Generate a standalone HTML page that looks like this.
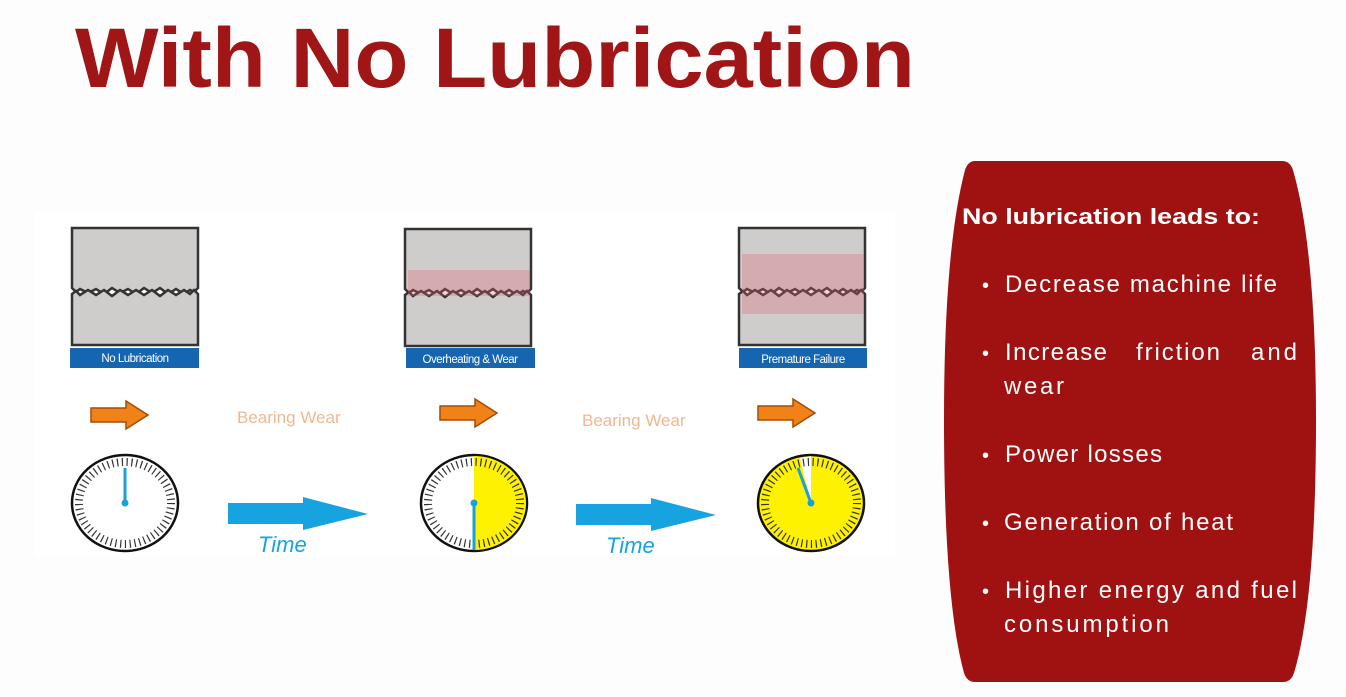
<!DOCTYPE html>
<html><head><style>
html,body{margin:0;padding:0;background:#fdfdfd;}
svg{display:block;}
</style></head><body>
<svg width="1346" height="697" viewBox="0 0 1346 697" xmlns="http://www.w3.org/2000/svg">
<defs>
<g id="blk">
<path d="M0,0 H126 V60 L122,64 L118,62 L112,66 L104,61 L96,66 L88,60 L80,65 L72,60 L64,66 L56,61 L48,65 L40,60 L32,66 L24,61 L16,65 L8,61 L4,64 L0,60 Z" fill="#cfcdcb" stroke="#333" stroke-width="2.5"/>
<path d="M0,117 H126 V66 L122,62 L118,66 L112,62 L104,67 L96,62 L88,68 L80,62 L72,67 L64,62 L56,67 L48,62 L40,68 L32,62 L24,67 L16,62 L8,67 L4,63 L0,66 Z" fill="#cfcdcb" stroke="#333" stroke-width="2.5"/>
</g>
<g id="oarr"><path d="M0,6 H35 V-1 L57,13 L35,27 V20 H0 Z" fill="#f08218" stroke="#a24c08" stroke-width="1.5"/></g>
<g id="barr"><path d="M0,3 H75 V-3 L140,14 L75,30 V24 H0 Z" fill="#16a3e0"/></g>
</defs>
<rect x="35" y="212" width="860" height="345" fill="#ffffff"/>
<text x="75" y="87" font-family="Liberation Sans, sans-serif" font-weight="bold" font-size="84" fill="#a01515" textLength="840" lengthAdjust="spacingAndGlyphs">With No Lubrication</text>

<use href="#blk" x="72" y="228"/>
<use href="#blk" x="405" y="229"/>
<use href="#blk" x="739" y="228"/>
<g fill="#e06070" opacity="0.3">
<rect x="408" y="270" width="122" height="26"/>
<rect x="742" y="254" width="122" height="60"/>
</g>
<rect x="70" y="348" width="129" height="20" fill="#1565b0"/>
<rect x="406" y="348" width="129" height="20" fill="#1565b0"/>
<rect x="739" y="348" width="128" height="20" fill="#1565b0"/>
<g font-family="Liberation Sans, sans-serif" font-size="11.5" fill="#fff" text-anchor="middle" letter-spacing="-0.5">
<text x="135" y="362">No Lubrication</text>
<text x="470" y="363">Overheating &amp; Wear</text>
<text x="803" y="363">Premature Failure</text>
</g>

<use href="#oarr" x="91" y="402"/>
<use href="#oarr" x="440" y="400"/>
<use href="#oarr" x="758" y="400"/>
<g font-family="Liberation Sans, sans-serif" font-size="17" fill="#f0b890">
<text x="237" y="423">Bearing Wear</text>
<text x="582" y="426">Bearing Wear</text>
</g>
<use href="#barr" x="228" y="500"/>
<use href="#barr" x="576" y="501"/>
<g font-family="Liberation Sans, sans-serif" font-size="22" font-style="italic" fill="#16a3e0">
<text x="258" y="552">Time</text>
<text x="606" y="553">Time</text>
</g>

<g>
<ellipse cx="125" cy="503" rx="53" ry="48" fill="#fff" stroke="#111" stroke-width="2.5"/>
<ellipse cx="125" cy="503" rx="46" ry="41" fill="none" stroke="#333" stroke-width="8" stroke-dasharray="1.2 3.6"/>
<line x1="125" y1="503" x2="125" y2="468" stroke="#1aa0d8" stroke-width="3"/>
<circle cx="125" cy="503" r="3.5" fill="#1aa0d8"/>
</g>
<g>
<ellipse cx="474" cy="503" rx="53" ry="48" fill="#fff" stroke="#111" stroke-width="2.5"/>
<path d="M474,456 A52,47 0 0 1 474,550 Z" fill="#fff200"/>
<ellipse cx="474" cy="503" rx="46" ry="41" fill="none" stroke="#333" stroke-width="8" stroke-dasharray="1.2 3.6"/>
<line x1="474" y1="503" x2="474" y2="550" stroke="#1aa0d8" stroke-width="3"/>
<circle cx="474" cy="503" r="3.5" fill="#1aa0d8"/>
</g>
<g>
<ellipse cx="811" cy="503" rx="53" ry="48" fill="#fff200" stroke="#111" stroke-width="2.5"/>
<path d="M811,456 L811,503 L800,458 Z" fill="#fff"/>
<ellipse cx="811" cy="503" rx="46" ry="41" fill="none" stroke="#333" stroke-width="8" stroke-dasharray="1.2 3.6"/>
<line x1="811" y1="503" x2="798" y2="468" stroke="#1aa0d8" stroke-width="3"/>
<circle cx="811" cy="503" r="3.5" fill="#1aa0d8"/>
</g>

<path d="M975,161 H1282 Q1290,161 1293,170 Q1316,250 1316,420 Q1316,600 1294,673 Q1291,682 1283,682 H975 Q967,682 964,673 Q944,600 944,420 Q944,250 965,170 Q968,161 975,161 Z" fill="#a01212"/>
<g font-family="Liberation Sans, sans-serif" fill="#fff">
<text x="962" y="224" font-size="22" font-weight="bold" textLength="298" lengthAdjust="spacingAndGlyphs">No lubrication leads to:</text>
<g font-size="24">
<text x="982" y="292" font-size="20">•</text><text x="1005" y="292" textLength="272" lengthAdjust="spacing">Decrease machine life</text>
<text x="982" y="360" font-size="20">•</text>
<text x="1005" y="360" textLength="102" lengthAdjust="spacing">Increase</text><text x="1136" y="360" textLength="84" lengthAdjust="spacing">friction</text><text x="1251" y="360" textLength="46" lengthAdjust="spacing">and</text>
<text x="1004" y="394" textLength="60" lengthAdjust="spacing">wear</text>
<text x="982" y="462" font-size="20">•</text><text x="1005" y="462" textLength="157" lengthAdjust="spacing">Power losses</text>
<text x="982" y="530" font-size="20">•</text><text x="1004" y="530" textLength="229" lengthAdjust="spacing">Generation of heat</text>
<text x="982" y="598" font-size="20">•</text><text x="1005" y="598" textLength="292" lengthAdjust="spacing">Higher energy and fuel</text>
<text x="1004" y="632" textLength="165" lengthAdjust="spacing">consumption</text>
</g>
</g>
</svg>
</body></html>
